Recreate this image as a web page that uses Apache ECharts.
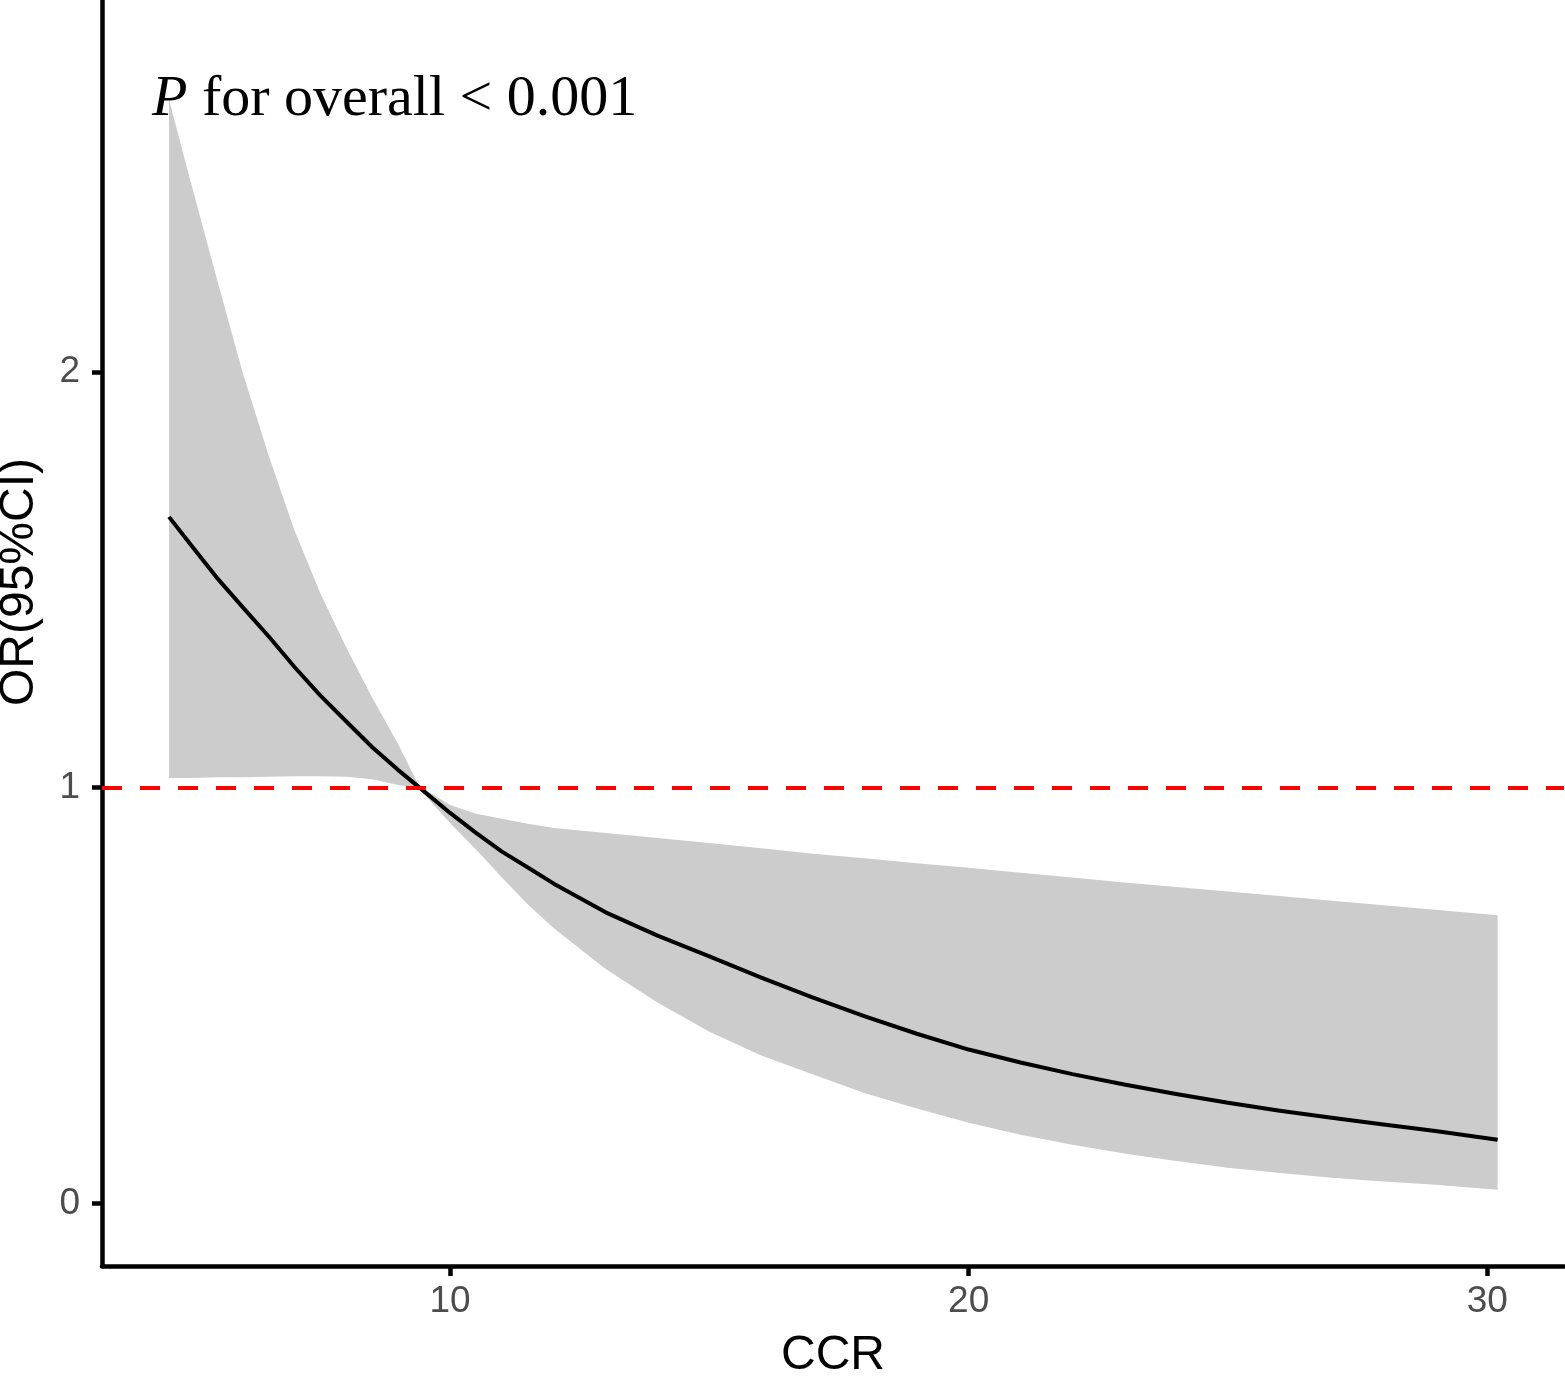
<!DOCTYPE html>
<html>
<head>
<meta charset="utf-8">
<script src="https://cdn.jsdelivr.net/npm/echarts@6/dist/echarts.min.js"></script>
<style>
  html, body { margin: 0; padding: 0; background: #fff; }
  #chart { width: 1565px; height: 1385px; }
</style>
</head>
<body>
<div id="chart"></div>
<script>
// CCR values
const ccr = [4.58, 5, 5.5, 6, 6.5, 7, 7.5, 8, 8.5, 9, 9.4, 10, 10.5, 11, 11.5, 12, 13, 14, 15, 16, 17, 18, 19, 20, 21, 22, 23, 24, 25, 26, 27, 28, 29, 30.2]
// OR estimate
const orFit = [1.651, 1.584, 1.505, 1.434, 1.364, 1.290, 1.221, 1.159, 1.097, 1.042, 1.001, 0.939, 0.891, 0.846, 0.808, 0.769, 0.700, 0.644, 0.594, 0.543, 0.495, 0.450, 0.408, 0.370, 0.339, 0.311, 0.286, 0.263, 0.242, 0.223, 0.206, 0.190, 0.174, 0.153]
// 95% CI upper / lower
const ciUpper = [2.655, 2.456, 2.225, 1.998, 1.799, 1.618, 1.467, 1.336, 1.216, 1.104, 1.004, 0.958, 0.937, 0.925, 0.913, 0.903, 0.891, 0.879, 0.867, 0.854, 0.841, 0.830, 0.818, 0.807, 0.795, 0.784, 0.772, 0.761, 0.750, 0.739, 0.728, 0.717, 0.706, 0.693]
const ciLower = [1.023, 1.023, 1.025, 1.025, 1.026, 1.027, 1.027, 1.026, 1.020, 1.006, 0.998, 0.915, 0.851, 0.784, 0.719, 0.662, 0.564, 0.483, 0.413, 0.356, 0.310, 0.265, 0.228, 0.194, 0.165, 0.141, 0.120, 0.102, 0.086, 0.073, 0.062, 0.053, 0.045, 0.033]

const xTicks = [10, 20, 30]
const yTicks = [0, 1, 2]

const chart = echarts.init(document.getElementById("chart"))

const fitData = ccr.map((x, i) => [x, orFit[i]])

// 置信带多边形：上界从左到右，下界从右到左
function renderBand(params, api) {
  if (params.dataIndex !== 0) return
  const pts = []
  for (let i = 0; i < ccr.length; i++) pts.push(api.coord([ccr[i], ciUpper[i]]))
  for (let i = ccr.length - 1; i >= 0; i--) pts.push(api.coord([ccr[i], ciLower[i]]))
  return {
    type: "polygon",
    shape: { points: pts },
    style: { fill: "#CCCCCC", stroke: null }
  }
}

const option = {
  animation: false,
  backgroundColor: "#ffffff",
  grid: { left: 102, right: 1, top: 0, bottom: 111 },
  xAxis: {
    type: "value",
    min: 3.288,
    max: 31.48,
    name: "CCR",
    nameLocation: "middle",
    nameGap: 66,
    nameTextStyle: { fontFamily: "Liberation Sans", fontSize: 48, color: "#000" },
    axisLine: { onZero: false, lineStyle: { color: "#000", width: 4.5 } },
    axisTick: { show: true, length: 10, customValues: xTicks, lineStyle: { color: "#000", width: 4.5 } },
    axisLabel: { customValues: xTicks, margin: 17, fontFamily: "Liberation Sans", fontSize: 37, color: "#4D4D4D" },
    splitLine: { show: false }
  },
  yAxis: {
    type: "value",
    min: -0.1505,
    max: 2.894,
    axisLine: { onZero: false, lineStyle: { color: "#000", width: 4.5 } },
    axisTick: { show: true, length: 10, customValues: yTicks, lineStyle: { color: "#000", width: 4.5 } },
    axisLabel: { customValues: yTicks, margin: 22, fontFamily: "Liberation Sans", fontSize: 37, color: "#4D4D4D" },
    splitLine: { show: false }
  },
  graphic: [
    {
      type: "text",
      x: 20,
      y: 582,
      rotation: Math.PI / 2,
      z: 100,
      style: {
        text: "OR(95%CI)",
        font: '48px "Liberation Sans"',
        fill: "#000",
        align: "center",
        verticalAlign: "middle"
      }
    },
    {
      type: "text",
      x: 152,
      y: 100,
      z: 100,
      style: {
        text: "{i|P} for overall < 0.001",
        font: '58px "Liberation Serif"',
        fill: "#000",
        verticalAlign: "middle",
        rich: {
          i: { fontFamily: "Liberation Serif", fontSize: 58, fontStyle: "italic", fill: "#000" }
        }
      }
    }
  ],
  series: [
    {
      name: "95%CI",
      type: "custom",
      renderItem: renderBand,
      data: [0],
      silent: true,
      z: 1
    },
    {
      name: "OR",
      type: "line",
      data: fitData,
      smooth: false,
      showSymbol: false,
      lineStyle: { color: "#000", width: 4, join: "round" },
      z: 3,
      markLine: {
        silent: true,
        symbol: "none",
        label: { show: false },
        lineStyle: { color: "#FF0000", width: 4, type: [20, 18] },
        data: [{ yAxis: 1 }]
      }
    }
  ]
}

chart.setOption(option)
</script>
</body>
</html>
